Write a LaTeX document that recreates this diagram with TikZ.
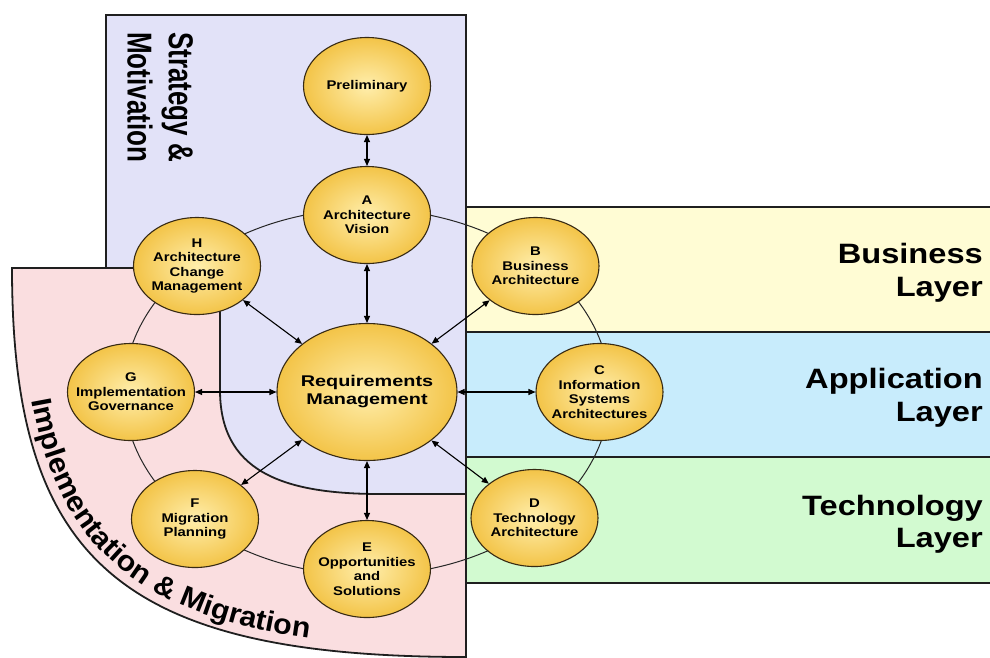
\documentclass[tikz,border=0pt]{standalone}
\usepackage{graphicx}
\usepackage{fontspec}
\setmainfont{Liberation Sans}
\newfontfamily\phasefont[FakeStretch=1.18]{Liberation Sans}
\newfontfamily\reqfont[FakeStretch=1.28]{Liberation Sans}
\newfontfamily\layerfont[FakeStretch=1.165]{Liberation Sans}
\newfontfamily\arcfont[FakeStretch=1.06]{Liberation Sans}
\usetikzlibrary{shapes.geometric, arrows.meta, decorations.text}

\definecolor{lav}{RGB}{226,226,248}
\definecolor{impl}{RGB}{250,222,224}
\definecolor{bizfill}{RGB}{255,252,212}
\definecolor{appfill}{RGB}{200,236,252}
\definecolor{techfill}{RGB}{210,250,208}
\definecolor{nodein}{RGB}{255,238,172}
\definecolor{nodeout}{RGB}{243,196,72}
\definecolor{nodeline}{RGB}{55,42,20}

\begin{document}
\begin{tikzpicture}[x=1pt, y=-1pt,
  zone/.style={draw=black!88, line width=1.8pt},
  phase/.style={ellipse, draw=nodeline, line width=1.1pt, shading=radial,
    inner color=nodein, outer color=nodeout, inner sep=0pt,
    minimum width=127pt, minimum height=97pt},
  phasetext/.style={align=center, inner sep=0pt,
    font=\phasefont\bfseries\fontsize{12.6}{14.5}\selectfont},
  link/.style={line width=1.1pt, >={Triangle[length=7pt,width=6pt]}, <->},
  ring/.style={draw=black!85, line width=1pt},
  layertext/.style={anchor=east, align=right, inner sep=0pt,
    font=\layerfont\bfseries\fontsize{28}{32.5}\selectfont}
]
\useasboundingbox (0,0) rectangle (990,657);

% Strategy & Motivation zone
\filldraw[zone, fill=lav] (106,15) rectangle (466,494);

% Implementation & Migration zone (quarter sweep with rounded inner cut)
\filldraw[zone, fill=impl] (12,268) -- (220,268) -- (220,390)
  .. controls (220,470) and (280,494) .. (380,494) -- (466,494) -- (466,657)
  .. controls (120,657) and (12,560) .. (12,268) -- cycle;

% architecture layers
\filldraw[zone, fill=bizfill]  (466,207) rectangle (1000,332);
\filldraw[zone, fill=appfill]  (466,332) rectangle (1000,457);
\filldraw[zone, fill=techfill] (466,457) rectangle (1000,583);

% ADM cycle
\draw[ring] (367,392) ellipse [x radius=243, y radius=183];

% phases
\node[phase] (pre) at (367,86) {};
\node[phase] (a) at (367,215) {};
\node[phase] (b) at (535.5,266) {};
\node[phase] (c) at (599.5,392) {};
\node[phase] (d) at (534.5,518) {};
\node[phase] (e) at (367,569) {};
\node[phase] (f) at (195,519) {};
\node[phase] (g) at (131,392) {};
\node[phase] (h) at (197,266) {};
\node[phase, minimum width=180pt, minimum height=137pt] (rm) at (367,392) {};

\node[phasetext] (pre-t) at (pre) {Preliminary};
\node[phasetext] (a-t) at (a) {A\\Architecture\\Vision};
\node[phasetext] (b-t) at (b) {B\\Business\\Architecture};
\node[phasetext] (c-t) at (c) {C\\Information\\Systems\\Architectures};
\node[phasetext] (d-t) at (d) {D\\Technology\\Architecture};
\node[phasetext] (e-t) at (e) {E\\Opportunities\\and\\Solutions};
\node[phasetext] (f-t) at (f) {F\\Migration\\Planning};
\node[phasetext] (g-t) at (g) {G\\Implementation\\Governance};
\node[phasetext] (h-t) at (h) {H\\Architecture\\Change\\Management};
\node[align=center, inner sep=0pt,
  font=\reqfont\bfseries\fontsize{15.5}{18}\selectfont] (rm-t) at (rm)
  {Requirements\\Management};

% links to requirements management
\draw[link] (pre) -- (a);
\draw[link] (a) -- (rm);
\draw[link] (b) -- (rm);
\draw[link] (c) -- (rm);
\draw[link] (d) -- (rm);
\draw[link] (e) -- (rm);
\draw[link] (f) -- (rm);
\draw[link] (g) -- (rm);
\draw[link] (h) -- (rm);

% zone titles
\node[rotate=-90, anchor=north west, inner sep=0pt] (sm-t) at (198,32)
  {\scalebox{1}[1.33]{\fontsize{26}{31}\selectfont\bfseries
   \begin{tabular}{@{}l@{}}Strategy \&\\Motivation\end{tabular}}};

\path[decorate, decoration={text along path, text align={left indent=133pt},
  text={|\arcfont\bfseries\fontsize{28.5}{31}\selectfont|Implementation {\&} Migration}}]
  (22,268) .. controls (22,552) and (122,647) .. (466,647);

\node[layertext] (biz-t) at (983,273) {Business\\Layer};
\node[layertext] (app-t) at (983,398) {Application\\Layer};
\node[layertext] (tech-t) at (983,524) {Technology\\Layer};
\end{tikzpicture}
\end{document}
